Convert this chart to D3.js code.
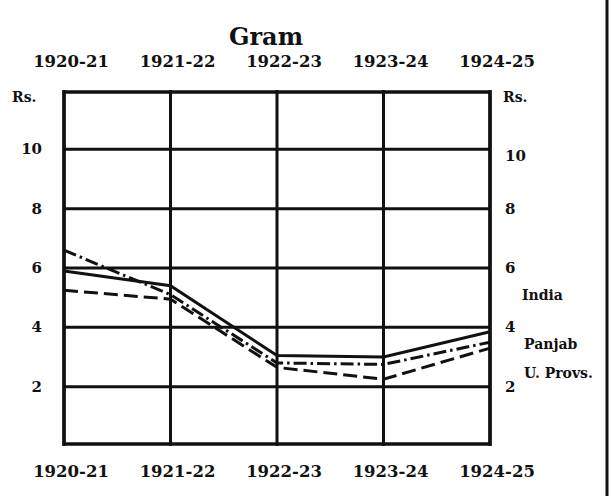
<!DOCTYPE html>
<html>
<head>
<meta charset="utf-8">
<script src="https://cdn.jsdelivr.net/npm/d3@7"></script>
<style>
  body { margin: 0; background: #fff; }
  text { font-family: "DejaVu Serif", serif; font-weight: bold; fill: #111; }
</style>
</head>
<body>
<svg></svg>
<script>
var w = 612, h = 496;

// data (Rs. per maund)
var years = ["1920-21", "1921-22", "1922-23", "1923-24", "1924-25"];
var india = [5.9, 5.4, 3.05, 3.0, 3.85];
var panjab = [6.6, 5.1, 2.8, 2.75, 3.5];
var uprovs = [5.25, 4.95, 2.65, 2.25, 3.3];
var yTicks = [2, 4, 6, 8, 10];
var seriesNames = ["India", "Panjab", "U. Provs."];

var svg = d3.select("svg")
  .attr("width", w)
  .attr("height", h);

var x = d3.scalePoint()
  .domain(years)
  .range([64, 490]);

var y = d3.scaleLinear()
  .domain([0, 12])
  .range([446, 90]);

var g = svg.append("g");

// grid lines
g.selectAll("line.hgrid")
  .data(yTicks)
  .enter()
  .append("line")
  .attr("class", "hgrid")
  .attr("x1", x(years[0]))
  .attr("x2", x(years[4]))
  .attr("y1", function(d){ return y(d); })
  .attr("y2", function(d){ return y(d); })
  .attr("stroke", "#111")
  .attr("stroke-width", 3);

g.selectAll("line.vgrid")
  .data(years)
  .enter()
  .append("line")
  .attr("class", "vgrid")
  .attr("x1", function(d){ return x(d); })
  .attr("x2", function(d){ return x(d); })
  .attr("y1", y(12))
  .attr("y2", y(0))
  .attr("stroke", "#111")
  .attr("stroke-width", 3);

// frame
g.append("rect")
  .attr("x", x(years[0]))
  .attr("y", y(12) + 2)
  .attr("width", x(years[4]) - x(years[0]))
  .attr("height", y(0) - y(12) - 4)
  .attr("fill", "none")
  .attr("stroke", "#111")
  .attr("stroke-width", 3.5);

// right page edge
svg.append("line")
  .attr("x1", 607).attr("x2", 607)
  .attr("y1", 0).attr("y2", h)
  .attr("stroke", "#111")
  .attr("stroke-width", 3);

// series lines
var line = d3.line()
  .x(function(d, i){ return x(years[i]); })
  .y(function(d){ return y(d); });

var series = [
  { name: "India", values: india, dash: null },
  { name: "Panjab", values: panjab, dash: "13,4,2.5,4" },
  { name: "U. Provs.", values: uprovs, dash: "14,6" }
];

g.selectAll("path.series")
  .data(series)
  .enter()
  .append("path")
  .attr("class", "series")
  .attr("d", function(d){ return line(d.values); })
  .attr("fill", "none")
  .attr("stroke", "#111")
  .attr("stroke-width", 3)
  .attr("stroke-dasharray", function(d){ return d.dash; });

// title
svg.append("text")
  .attr("x", 266)
  .attr("y", 45)
  .attr("text-anchor", "middle")
  .style("font-size", "24px")
  .text("Gram");

// year labels top and bottom
[67, 477].forEach(function(yy){
  svg.selectAll(null)
    .data(years)
    .enter()
    .append("text")
    .attr("x", function(d){ return x(d) + 7; })
    .attr("y", yy)
    .attr("text-anchor", "middle")
    .style("font-size", "16.5px")
    .text(function(d){ return d; });
});

// left axis
svg.selectAll("text.ly")
  .data(yTicks)
  .enter()
  .append("text")
  .attr("class", "ly")
  .attr("x", 42)
  .attr("y", function(d){ return y(d) + 5; })
  .attr("text-anchor", "end")
  .style("font-size", "15px")
  .text(function(d){ return d; });

svg.append("text")
  .attr("x", 12).attr("y", 102)
  .style("font-size", "14px")
  .text("Rs.");

// right axis
svg.selectAll("text.ry")
  .data(yTicks)
  .enter()
  .append("text")
  .attr("class", "ry")
  .attr("x", 505)
  .attr("y", function(d){ return y(d) + 5 + (d === 10 ? 7 : 0); })
  .style("font-size", "15px")
  .text(function(d){ return d; });

svg.append("text")
  .attr("x", 503).attr("y", 102)
  .style("font-size", "14px")
  .text("Rs.");

// series labels
var labelY = [300, 349, 378];
svg.selectAll("text.lab")
  .data(seriesNames)
  .enter()
  .append("text")
  .attr("class", "lab")
  .attr("x", function(d, i){ return i === 0 ? 522 : 524; })
  .attr("y", function(d, i){ return labelY[i]; })
  .style("font-size", "14px")
  .text(function(d){ return d; });
</script>
</body>
</html>
